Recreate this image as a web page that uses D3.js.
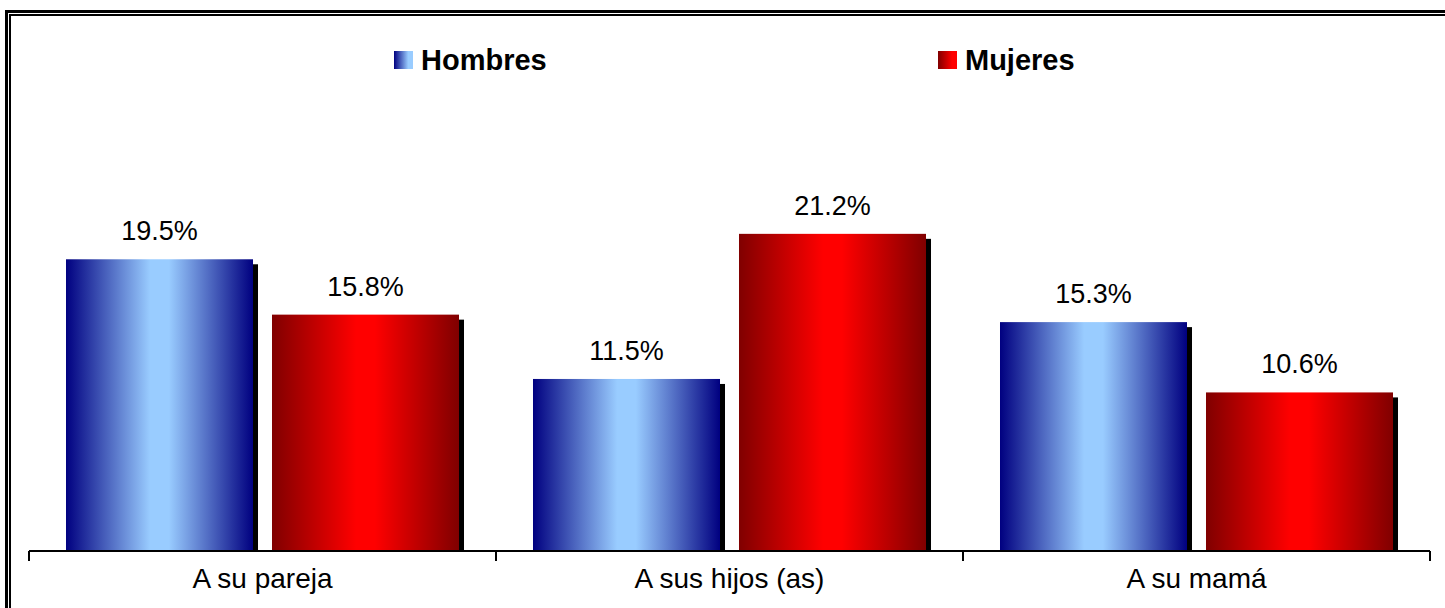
<!DOCTYPE html>
<html>
<head>
<meta charset="utf-8">
<script src="https://cdn.jsdelivr.net/npm/d3@7/dist/d3.min.js"></script>
<style>
  html, body { margin: 0; padding: 0; background: #fff; }
  svg { display: block; }
  text { font-family: Arial, "Liberation Sans", sans-serif; fill: #000; }
</style>
</head>
<body>
<svg id="chart" width="1445" height="608"></svg>
<script>
const categories = ["A su pareja", "A sus hijos (as)", "A su mamá"];
const seriesNames = ["Hombres", "Mujeres"];
const hombres = [19.5, 11.5, 15.3];
const mujeres = [15.8, 21.2, 10.6];
const valueLabels = [["19.5%", "11.5%", "15.3%"], ["15.8%", "21.2%", "10.6%"]];

const svg = d3.select("#chart");
const W = 1445, H = 608;
const plotLeft = 29, plotRight = 1430, baseY = 551;

const defs = svg.append("defs");
function barGrad(id, edge, mid) {
  const g = defs.append("linearGradient").attr("id", id).attr("x1", "0%").attr("x2", "100%").attr("y1", "0%").attr("y2", "0%");
  g.append("stop").attr("offset", "0%").attr("stop-color", edge);
  g.append("stop").attr("offset", "45%").attr("stop-color", mid);
  g.append("stop").attr("offset", "55%").attr("stop-color", mid);
  g.append("stop").attr("offset", "100%").attr("stop-color", edge);
}
barGrad("gBlue", "#000080", "#99CCFF");
barGrad("gRed", "#800000", "#FF0000");
function swGrad(id, edge, mid) {
  const g = defs.append("linearGradient").attr("id", id).attr("x1", "0%").attr("x2", "100%");
  g.append("stop").attr("offset", "0%").attr("stop-color", edge);
  g.append("stop").attr("offset", "75%").attr("stop-color", mid);
  g.append("stop").attr("offset", "100%").attr("stop-color", mid);
}
swGrad("sBlue", "#000080", "#99CCFF");
swGrad("sRed", "#800000", "#FF0000");

// Frame (double line, top and left)
const frame = svg.append("g").attr("fill", "#000");
frame.append("rect").attr("x", 5).attr("y", 10).attr("width", W - 5).attr("height", 3);
frame.append("rect").attr("x", 9).attr("y", 14).attr("width", W - 9).attr("height", 2);
frame.append("rect").attr("x", 5).attr("y", 10).attr("width", 3).attr("height", H - 10);
frame.append("rect").attr("x", 9).attr("y", 14).attr("width", 2).attr("height", H - 14);

const x0 = d3.scaleBand().domain(categories).range([plotLeft, plotRight]).paddingInner(0).paddingOuter(0);
const x1 = d3.scaleBand().domain(seriesNames).range([0, x0.bandwidth()]).paddingInner(0.0922).paddingOuter(0.1796);
const y = d3.scaleLinear().domain([0, 25]).range([baseY, baseY - 374]);

const data = [];
categories.forEach((c, i) => {
  data.push({cat: c, s: "Hombres", v: hombres[i], label: valueLabels[0][i], fill: "url(#gBlue)"});
  data.push({cat: c, s: "Mujeres", v: mujeres[i], label: valueLabels[1][i], fill: "url(#gRed)"});
});

const bars = svg.append("g");
bars.selectAll("rect.shadow").data(data).enter().append("rect")
  .attr("class", "shadow")
  .attr("x", d => x0(d.cat) + x1(d.s) + 5)
  .attr("y", d => y(d.v) + 5)
  .attr("width", x1.bandwidth())
  .attr("height", d => y(0) - y(d.v) - 5)
  .attr("fill", "#000");
bars.selectAll("rect.bar").data(data).enter().append("rect")
  .attr("class", "bar")
  .attr("x", d => x0(d.cat) + x1(d.s))
  .attr("y", d => y(d.v))
  .attr("width", x1.bandwidth())
  .attr("height", d => y(0) - y(d.v))
  .attr("fill", d => d.fill);

svg.append("g").selectAll("text").data(data).enter().append("text")
  .attr("x", d => x0(d.cat) + x1(d.s) + x1.bandwidth() / 2)
  .attr("y", d => y(d.v) - 19)
  .attr("text-anchor", "middle")
  .attr("font-size", 27)
  .text(d => d.label);

const axis = svg.append("g").attr("transform", `translate(0,${baseY})`)
  .call(d3.axisBottom(x0).tickSize(0).tickPadding(10));
axis.select(".domain").remove();
axis.selectAll("text").attr("font-size", 28).attr("fill", "#000").attr("dy", null).attr("y", 37)
  .style("font-family", "Arial, 'Liberation Sans', sans-serif");
svg.append("line").attr("x1", plotLeft).attr("x2", plotRight).attr("y1", baseY).attr("y2", baseY)
  .attr("stroke", "#000").attr("stroke-width", 2);
const bounds = categories.map(c => x0(c)).concat([x0(categories[categories.length - 1]) + x0.bandwidth()]);
svg.append("g").selectAll("line").data(bounds).enter().append("line")
  .attr("x1", d => d).attr("x2", d => d).attr("y1", baseY).attr("y2", baseY + 10)
  .attr("stroke", "#000").attr("stroke-width", 2);

const legendPos = [{name: "Hombres", x: 394, fill: "url(#sBlue)"}, {name: "Mujeres", x: 938, fill: "url(#sRed)"}];
const lg = svg.append("g").selectAll("g").data(legendPos).enter().append("g");
lg.append("rect").attr("x", d => d.x).attr("y", 51).attr("width", 19).attr("height", 18).attr("fill", d => d.fill);
lg.append("text").attr("x", d => d.x + 27).attr("y", 70).attr("font-size", 29).attr("font-weight", "bold").text(d => d.name);
</script>
</body>
</html>
